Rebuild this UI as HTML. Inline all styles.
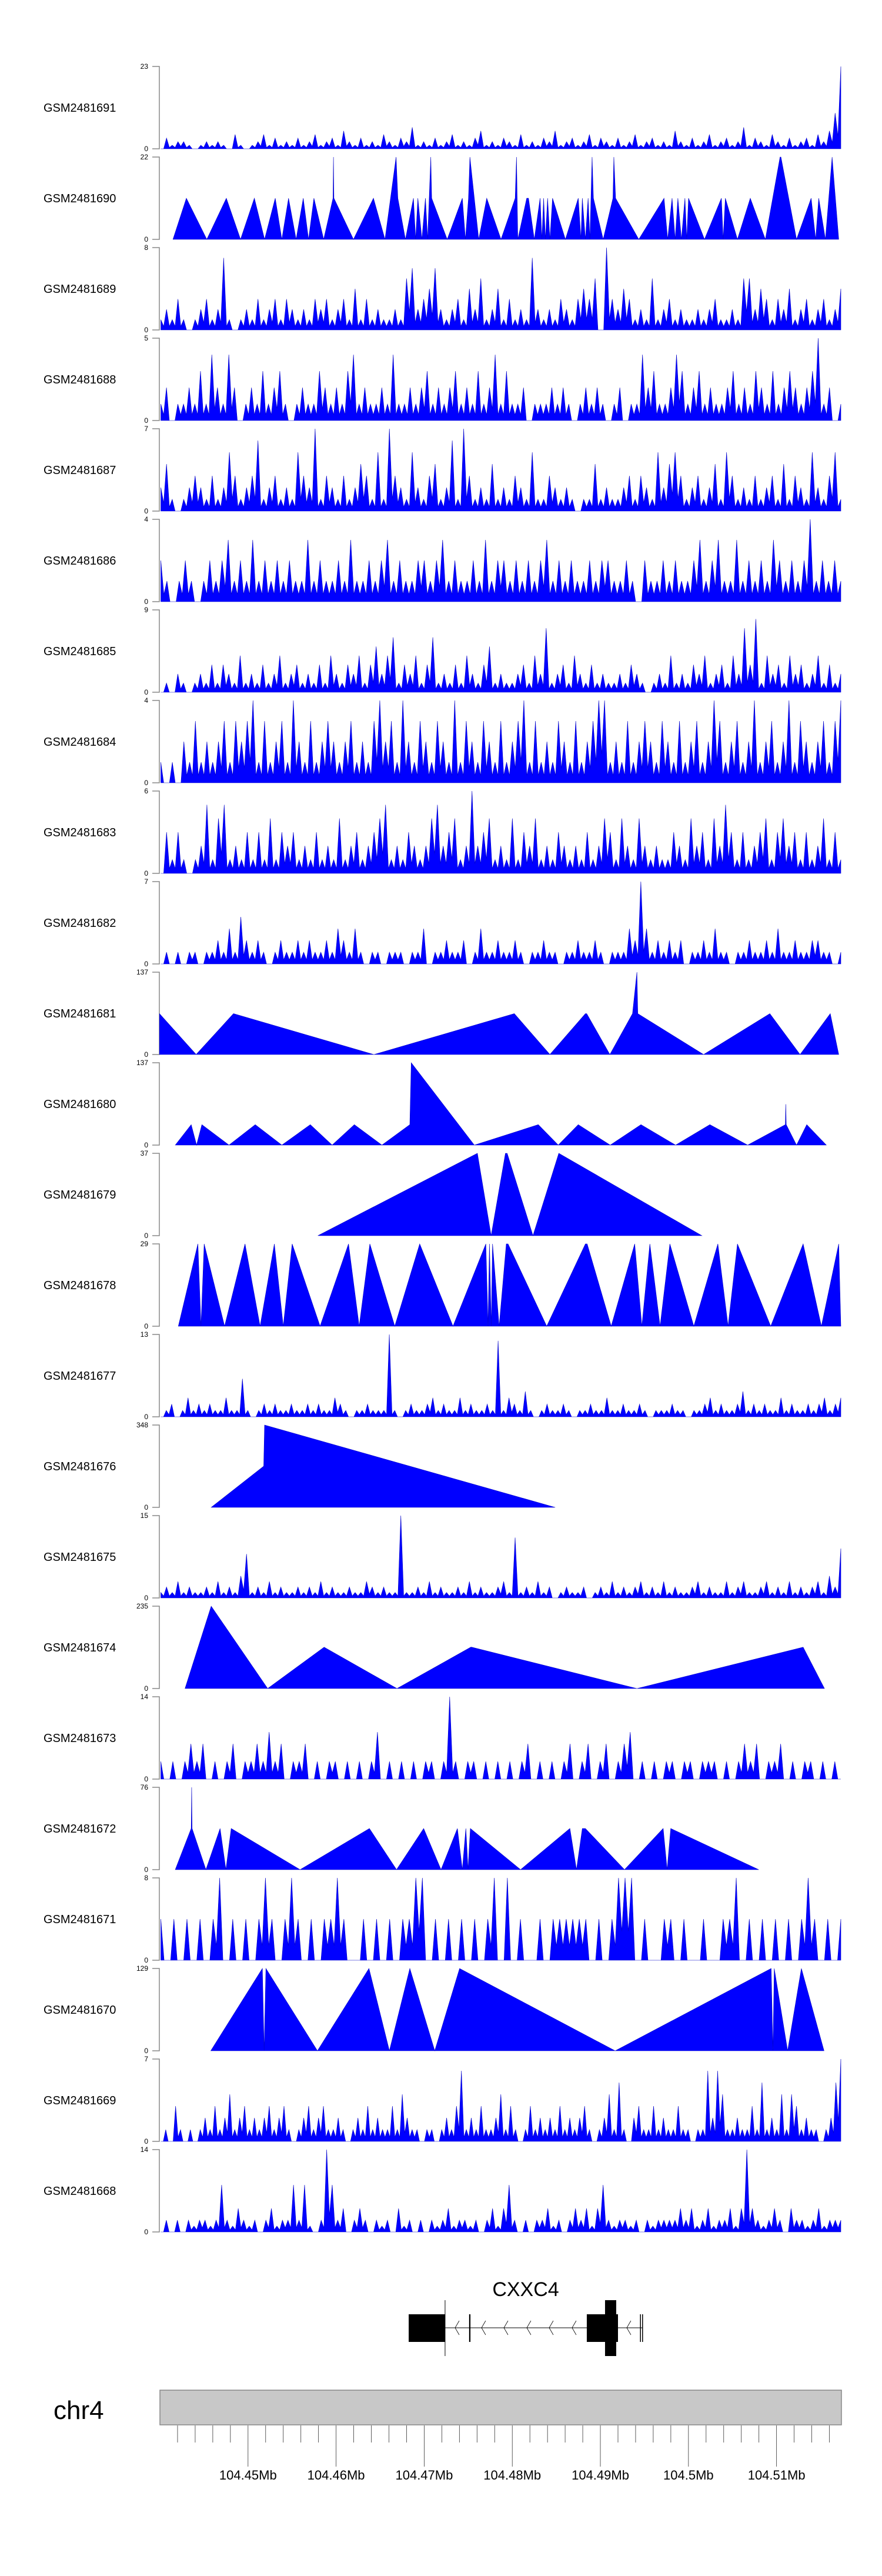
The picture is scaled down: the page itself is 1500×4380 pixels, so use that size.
<!DOCTYPE html>
<html><head><meta charset="utf-8"><style>
html,body{margin:0;padding:0;background:#fff}
svg{display:block;font-family:"Liberation Sans",sans-serif}
</style></head><body>
<svg id="chart" width="1500" height="4380" viewBox="0 0 1500 4380" xmlns="http://www.w3.org/2000/svg"></svg>
<script>
// x domain in kb offset from 104,400,000 bp
const xDomain = [40.0, 117.3];
const binStart = 40.1, binEnd = 117.3;

const trackNames = ["GSM2481691","GSM2481690","GSM2481689","GSM2481688","GSM2481687","GSM2481686","GSM2481685","GSM2481684","GSM2481683","GSM2481682","GSM2481681","GSM2481680","GSM2481679","GSM2481678","GSM2481677","GSM2481676","GSM2481675","GSM2481674","GSM2481673","GSM2481672","GSM2481671","GSM2481670","GSM2481669","GSM2481668"];
const trackMax = [23,22,8,5,7,4,9,4,6,7,137,137,37,29,13,348,15,235,14,76,8,129,7,14];

const bins691 = [0,3,1,2,2,1,0,1,2,1,2,1,0,4,1,0,1,2,4,1,3,1,2,1,3,1,2,4,1,2,3,1,5,2,1,3,1,2,1,4,2,1,3,2,6,1,2,1,3,1,2,4,1,2,1,3,5,1,2,1,3,2,1,4,1,2,1,3,2,5,1,2,3,1,2,4,1,3,2,1,3,1,2,4,1,2,3,1,2,1,5,2,1,3,1,2,4,1,2,3,1,2,6,1,3,2,1,4,2,1,3,1,2,3,1,4,2,5,10,23];
const pos690 = [41.48,43.00,45.32,47.54,49.15,50.72,51.88,53.09,53.84,54.60,55.46,56.27,56.87,57.48,58.59,59.65,59.70,59.75,61.97,64.24,65.55,66.81,67.01,67.87,68.78,69.03,69.28,69.74,70.14,70.39,70.75,70.85,72.61,74.33,74.68,75.03,75.19,76.19,77.10,78.72,80.33,80.48,80.63,81.64,81.84,82.50,83.16,83.36,83.56,83.76,84.01,84.27,84.57,86.03,87.49,87.80,87.95,88.30,88.61,88.81,89.06,89.21,90.32,91.43,91.53,91.73,94.36,97.23,97.64,98.14,98.49,98.80,99.20,99.60,99.81,100.01,101.82,103.74,103.94,104.19,105.56,107.02,108.73,110.40,110.50,112.27,113.93,114.44,114.79,115.55,116.31,117.06];
const val690 = [0,11,0,11,0,11,0,11,0,11,0,11,0,11,0,11,22,11,0,11,0,22,11,0,11,0,11,0,11,0,22,11,0,11,0,11,22,0,11,0,11,22,0,11,11,0,11,0,11,0,11,0,11,0,11,0,11,0,11,0,22,11,0,11,22,11,0,11,0,11,0,11,0,11,0,11,0,11,0,11,0,11,0,22,22,0,11,0,11,0,22,0];
const bins689 = [1,2,1,3,1,0,1,2,3,1,2,7,1,0,1,2,1,3,1,2,3,1,3,2,1,2,1,3,2,3,1,2,3,1,4,1,3,1,2,1,1,2,1,5,6,2,3,4,6,2,1,2,3,1,4,2,5,1,2,4,1,3,1,2,1,7,2,1,2,1,3,2,1,3,4,3,5,0,8,3,2,4,3,1,2,1,5,1,2,3,1,2,1,1,2,1,2,3,1,1,2,1,5,5,2,4,3,1,3,2,4,1,2,3,1,2,3,1,2,4];
const bins688 = [1,2,0,1,1,2,1,3,1,4,2,1,4,2,0,1,2,1,3,1,2,3,1,0,1,2,1,1,3,2,1,2,1,3,4,1,2,1,1,2,1,4,1,1,2,1,2,3,1,2,1,2,3,1,2,1,3,1,2,4,1,3,1,1,2,0,1,1,1,2,1,2,1,0,1,2,1,2,1,0,1,2,0,1,1,4,2,3,1,1,2,4,3,1,2,3,1,2,1,1,2,3,1,2,1,3,2,1,3,1,2,3,2,1,2,3,5,1,2,0,1];
const bins687 = [2,4,1,0,1,2,3,2,1,3,1,2,5,3,1,2,3,6,1,2,3,1,2,1,5,3,2,7,1,3,2,1,3,1,2,4,3,1,5,1,7,3,2,1,5,2,1,3,4,1,2,6,1,7,3,1,2,1,4,1,2,1,3,2,1,5,1,1,3,2,1,2,1,0,1,1,4,1,2,1,1,2,3,1,3,2,1,5,2,4,5,3,1,2,3,1,2,4,1,5,3,1,2,1,3,1,2,3,1,4,1,3,2,1,5,2,1,3,5,1];
const bins686 = [2,1,0,1,2,1,0,1,2,1,2,3,1,2,1,3,1,2,1,2,1,2,1,1,3,1,2,1,1,2,1,3,1,1,2,1,2,3,1,2,1,1,2,2,1,2,3,1,2,1,1,2,1,3,1,2,2,1,2,1,2,1,2,3,1,2,1,2,1,1,2,1,2,2,1,1,2,1,0,2,1,1,2,1,2,1,1,2,3,1,2,3,1,1,3,1,2,1,2,1,3,2,1,2,1,2,4,1,2,1,2,1];
const bins685 = [0,1,0,2,1,0,1,2,1,3,1,3,2,1,4,1,2,1,3,1,2,4,1,2,3,1,2,1,3,1,4,2,1,3,2,4,1,3,5,2,4,6,1,3,2,4,1,3,6,1,2,1,3,1,4,2,1,3,5,1,2,1,1,2,3,1,4,2,7,1,2,3,1,4,2,1,3,1,2,1,1,2,1,3,2,1,0,1,2,1,4,1,2,1,3,2,4,1,2,3,1,4,2,7,3,8,1,4,2,3,1,4,2,3,1,2,4,1,3,1,2];
const bins684 = [1,0,1,0,2,1,3,1,2,1,2,3,1,3,2,3,4,1,3,1,2,3,1,4,2,1,3,1,2,3,2,1,2,3,1,2,1,3,4,2,3,1,4,2,1,3,2,1,3,2,1,4,1,3,2,1,3,2,1,3,1,2,3,4,1,3,1,2,1,3,2,1,3,1,2,3,4,4,1,2,1,3,1,2,3,2,1,3,2,1,3,1,2,3,1,2,4,3,1,2,3,1,2,4,1,2,3,1,2,4,1,3,2,1,2,3,1,3,4];
const bins683 = [0,3,1,3,1,0,1,2,5,1,4,5,1,2,1,3,1,3,1,4,1,3,2,3,1,2,1,3,1,2,1,4,1,2,3,1,2,3,4,5,1,2,1,3,2,1,2,4,5,2,3,4,1,2,6,2,3,4,1,2,1,4,1,3,2,4,1,2,1,3,2,1,2,1,3,1,2,4,3,1,4,2,1,4,2,1,2,1,1,3,2,1,4,2,3,1,4,2,5,3,1,3,1,2,3,4,1,3,4,2,3,1,3,1,2,4,1,3,1];
const bins682 = [0,1,0,1,0,1,1,0,1,1,2,1,3,1,4,2,1,2,1,0,1,2,1,1,2,1,2,1,1,2,1,3,2,1,3,1,0,1,1,0,1,1,1,0,1,1,3,0,1,1,2,1,1,2,0,1,3,1,1,2,1,1,2,1,0,1,1,2,1,1,0,1,1,2,1,1,2,1,0,1,1,1,3,2,7,3,1,2,1,2,1,2,0,1,1,2,1,3,1,1,0,1,1,2,1,1,2,1,3,1,1,2,1,1,2,2,1,1,0,1];
const pos681 = [39.95,44.11,48.35,64.29,80.23,84.27,88.30,88.45,91.08,93.65,94.15,94.25,101.72,109.24,112.67,116.10,117.06];
const val681 = [68,0,68,0,68,0,68,68,0,68,137,68,0,68,0,68,0];
const pos680 = [41.74,43.55,44.16,44.76,47.84,50.82,53.84,57.07,59.55,62.07,65.20,68.37,68.53,75.69,82.95,85.22,87.49,91.12,94.61,98.54,102.43,106.72,111.00,111.05,111.10,112.27,113.43,115.65];
const val680 = [0,34,0,34,0,34,0,34,0,34,0,34,137,0,34,0,34,0,34,0,34,0,34,68,34,0,34,0];
const pos679 = [57.93,76.04,77.60,79.22,79.42,82.35,85.28,101.52];
const val679 = [0,37,0,37,37,0,37,0];
const pos678 = [42.09,44.31,44.66,45.02,47.34,49.66,51.37,52.99,54.00,55.01,58.18,61.41,62.62,63.83,66.66,69.49,73.27,77.00,77.25,77.41,77.61,77.76,78.51,79.32,79.52,83.91,88.30,88.50,91.23,93.90,94.71,95.62,96.78,97.89,100.61,103.34,104.50,105.56,109.34,113.02,115.09,117.06,117.3];
const val678 = [0,29,0,29,0,29,0,29,0,29,0,29,0,29,0,29,0,29,0,29,0,29,0,29,29,0,29,29,0,29,0,29,0,29,0,29,0,29,0,29,0,29,0];
const bins677 = [0,1,2,0,1,3,1,2,1,2,1,1,3,1,1,6,1,0,1,2,1,2,1,1,2,1,1,2,1,2,1,1,3,2,1,0,1,1,2,1,1,1,13,1,0,1,2,1,1,2,3,1,2,1,1,3,1,2,1,1,2,1,12,1,3,2,1,4,1,0,1,2,1,1,2,1,0,1,1,2,1,1,3,1,1,2,1,1,2,1,0,1,1,1,2,1,1,0,1,1,2,3,1,2,1,1,2,4,1,2,1,2,1,1,3,1,2,1,1,2,1,2,3,1,2,3];
const pos676 = [45.82,51.78,51.88,84.87];
const val676 = [0,174,348,0];
const bins675 = [1,2,1,3,1,2,1,1,2,1,3,1,2,1,4,8,1,2,1,3,1,2,1,1,2,1,2,1,3,1,2,1,1,2,1,1,3,2,1,2,1,1,15,1,1,2,1,3,1,2,1,1,2,1,3,1,2,1,1,2,3,1,11,1,2,1,3,1,2,0,1,2,1,1,2,0,1,2,1,3,1,2,1,2,3,1,2,1,3,1,2,1,1,2,3,1,2,1,1,3,1,2,3,1,1,2,3,1,2,1,3,1,2,1,2,3,1,4,2,9];
const pos674 = [42.85,45.82,52.23,58.64,66.91,75.29,75.39,94.15,113.02,115.44];
const val674 = [0,235,0,118,0,118,118,0,118,0];
const bins673 = [3,0,3,0,3,6,3,6,0,3,0,3,6,0,3,3,6,3,8,3,6,0,3,3,6,0,3,0,3,3,0,3,0,3,0,3,8,0,3,0,3,0,3,0,3,3,0,3,14,3,0,3,3,0,3,0,3,0,3,0,3,6,0,3,0,3,0,3,6,0,3,6,0,3,6,0,3,6,8,0,3,0,3,0,3,3,0,3,3,0,3,3,3,0,3,0,3,6,3,6,0,3,3,6,0,3,0,3,3,0,3,0,3,0];
const pos672 = [41.74,43.55,43.60,43.65,45.22,46.83,47.49,48.09,55.91,63.78,66.86,69.94,71.91,73.77,74.33,74.73,74.98,75.24,80.94,86.54,87.29,87.95,88.30,92.74,97.13,97.58,97.99,107.98];
const val672 = [0,38,76,38,0,38,0,38,0,38,0,38,0,38,0,38,0,38,0,38,0,38,38,0,38,0,38,0];
const bins671 = [4,0,4,0,4,0,4,0,4,8,0,4,0,4,0,4,8,4,0,4,8,4,0,4,0,4,4,8,4,0,0,4,0,4,0,4,0,4,4,8,8,0,4,0,4,0,4,0,4,0,4,8,0,8,0,4,0,0,4,0,4,4,4,4,4,4,0,4,0,4,8,8,8,0,4,0,0,4,4,0,4,0,0,4,0,0,4,4,8,0,4,0,4,0,4,0,4,0,4,8,4,0,4,0,4];
const pos670 = [45.77,51.63,51.83,52.03,57.88,63.73,66.05,68.37,71.20,74.02,91.68,109.39,109.59,109.74,111.26,112.82,115.39];
const val670 = [0,129,0,129,0,129,0,129,0,129,0,129,0,129,0,129,0];
const bins669 = [0,1,0,3,1,0,1,0,1,2,1,3,1,2,4,1,2,3,1,2,1,2,3,1,2,3,1,0,1,2,3,1,2,3,1,1,2,1,0,1,2,1,3,1,2,1,1,3,1,4,2,1,1,0,1,1,0,1,2,1,3,6,1,2,1,3,1,1,2,4,1,3,1,0,1,3,1,2,1,2,1,3,1,2,1,2,3,1,0,1,2,4,1,5,1,0,2,3,1,1,3,1,2,1,1,3,1,1,0,1,1,6,2,6,4,1,1,2,1,1,3,1,5,1,2,1,4,1,4,3,1,2,1,1,0,1,2,5,7];
const bins668 = [0,2,0,2,0,2,1,2,2,1,2,8,2,1,4,2,1,2,0,2,4,1,2,2,8,2,8,1,0,2,14,8,2,4,0,2,4,2,0,2,1,2,0,4,1,2,0,2,0,2,1,2,4,1,2,2,1,2,0,2,4,1,4,8,2,0,2,0,2,2,4,1,2,0,2,4,2,4,1,4,8,2,1,2,2,1,2,0,2,1,2,2,2,2,4,2,4,1,2,4,1,2,2,4,1,4,14,4,2,1,2,4,2,0,4,2,2,1,2,4,1,2,2,2];

// gene model (kb)
const geneName = "CXXC4";
const exonStarts = [68.24, 75.10, 88.46, 94.50, 94.74];
const exonEnds = [72.37, 75.25, 92.00, 94.58, 94.82];
const cdsStarts = [90.53];
const cdsEnds = [91.80];
const txStart = 72.37, txEnd = 94.80;
const tssMark = 72.37;
const chevrons = [73.71, 76.71, 79.25, 81.85, 84.39, 86.99, 93.20];
const majorTicks = [50, 60, 70, 80, 90, 100, 110];
const majorLabels = ["104.45Mb","104.46Mb","104.47Mb","104.48Mb","104.49Mb","104.5Mb","104.51Mb"];
const minorTickStart = 42, minorTickEnd = 116, minorTickStep = 2;

const trackData = [
  {bins: bins691},{pos: pos690, val: val690},{bins: bins689},{bins: bins688},{bins: bins687},{bins: bins686},
  {bins: bins685},{bins: bins684},{bins: bins683},{bins: bins682},{pos: pos681, val: val681},{pos: pos680, val: val680},
  {pos: pos679, val: val679},{pos: pos678, val: val678},{bins: bins677},{pos: pos676, val: val676},{bins: bins675},
  {pos: pos674, val: val674},{bins: bins673},{pos: pos672, val: val672},{bins: bins671},{pos: pos670, val: val670},
  {bins: bins669},{bins: bins668}
];

const NS = "http://www.w3.org/2000/svg";
const svg = document.getElementById("chart");
const PX0 = 272, PX1 = 1430;
function xScale(kb){ return PX0 + (kb - xDomain[0]) / (xDomain[1] - xDomain[0]) * (PX1 - PX0); }
function mk(tag, attrs, parent){ const e = document.createElementNS(NS, tag); for (const k in attrs) e.setAttribute(k, attrs[k]); (parent||svg).appendChild(e); return e; }

const TOP0 = 113, PITCH = 154, H = 140;
trackData.forEach((td, k) => {
  const top = TOP0 + PITCH * k, base = top + H;
  const g = mk("g", {});
  
  
  const yS = v => base - v / trackMax[k] * H;
  const lab = mk("text", {x: 74, y: top + H/2 + 7, "font-size": 20, fill: "#000"}, g);
  lab.textContent = trackNames[k];
  
  
  const ax = mk("path", {d: `M259 ${top}H271V${base}H259`, fill: "none", stroke: "#888", "stroke-width": 1.5}, g);
  
  
  const t1 = mk("text", {x: 252, y: top + 4, "font-size": 12, "text-anchor": "end", fill: "#000"}, g);
  t1.textContent = String(trackMax[k]);
  
  
  const t0 = mk("text", {x: 252, y: base + 4, "font-size": 12, "text-anchor": "end", fill: "#000"}, g);
  t0.textContent = "0";
  
  
  let xs = [], vs = [];
  if (td.bins) {
    const n = td.bins.length, step = (binEnd - binStart) / (n - 1);
    td.bins.forEach((v, i) => {
      xs.push(binStart + i * step); vs.push(v);
      if (i < n - 1) {
        // coverage dips between neighbouring read pile-ups
        xs.push(binStart + (i + 0.5) * step);
        vs.push(Math.min(v, td.bins[i + 1]) * 0.35);
      }
    });
  } else { xs = td.pos; vs = td.val; }
  let d = `M${xScale(xs[0]).toFixed(2)} ${base}`;
  xs.forEach((x, i) => { d += `L${xScale(Math.min(x, xDomain[1])).toFixed(2)} ${yS(vs[i]).toFixed(2)}`; });
  d += `L${xScale(Math.min(xs[xs.length-1], xDomain[1])).toFixed(2)} ${base}Z`;
  const area = mk("path", {d: d, fill: "#0000ff", stroke: "#0000c8", "stroke-width": 0.6, "stroke-linejoin": "miter"}, g);
  
  
});

// gene track
const gg = mk("g", {});


const gl = mk("text", {x: 894, y: 3904, "font-size": 34, "text-anchor": "middle", fill: "#000"}, gg);
gl.textContent = geneName;


const intron = mk("line", {x1: xScale(txStart), x2: xScale(txEnd), y1: 3958, y2: 3958, stroke: "#000", "stroke-width": 1}, gg);


chevrons.forEach(c => {
  const x = xScale(c);
  const ch = mk("path", {d: `M${x+4} 3946L${x-3} 3958L${x+4} 3970`, fill: "none", stroke: "#000", "stroke-width": 0.8}, gg);
  
  
});
exonStarts.forEach((s, i) => {
  const x0 = xScale(s), x1 = xScale(exonEnds[i]);
  const r = mk("rect", {x: x0, y: 3935, width: Math.max(1.5, x1 - x0), height: 47, fill: "#000"}, gg);
  
  
});
cdsStarts.forEach((s, i) => {
  const x0 = xScale(s), x1 = xScale(cdsEnds[i]);
  const r = mk("rect", {x: x0, y: 3911, width: x1 - x0, height: 95, fill: "#000"}, gg);
  
  
});
const tss = mk("line", {x1: xScale(tssMark), x2: xScale(tssMark), y1: 3911, y2: 4006, stroke: "#000", "stroke-width": 1}, gg);



// genome axis
const ga = mk("g", {});


const chr = mk("text", {x: 91, y: 4113, "font-size": 44, fill: "#000"}, ga);
chr.textContent = "chr4";


const bar = mk("rect", {x: 272, y: 4064, width: 1159, height: 59, fill: "#c8c8c8", stroke: "#888", "stroke-width": 1.5}, ga);


for (let t = minorTickStart; t <= minorTickEnd; t += minorTickStep) {
  const major = majorTicks.indexOf(t) >= 0;
  const tk = mk("line", {x1: xScale(t), x2: xScale(t), y1: 4124, y2: major ? 4194 : 4153, stroke: "#333", "stroke-width": 0.8}, ga);
  
  
}
majorTicks.forEach((t, i) => {
  const tl = mk("text", {x: xScale(t), y: 4216, "font-size": 22, "text-anchor": "middle", fill: "#000"}, ga);
  tl.textContent = majorLabels[i];
  
  
});
</script>
</body></html>
